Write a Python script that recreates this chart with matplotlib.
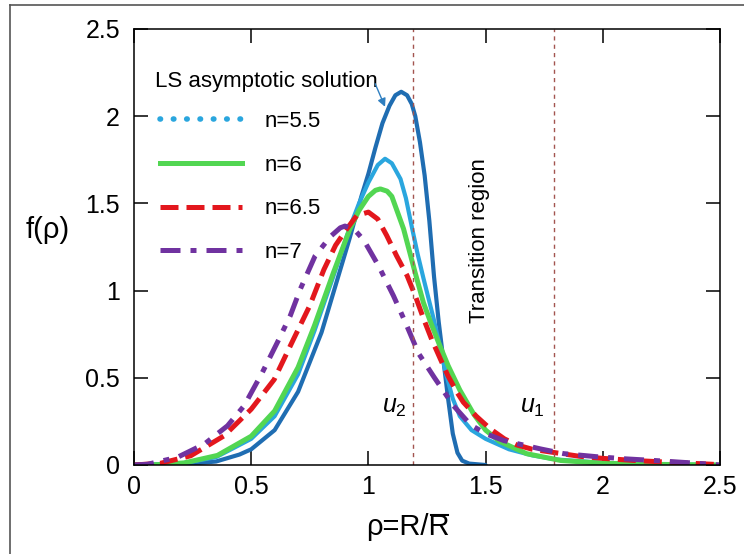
import matplotlib
matplotlib.use("Agg")
import matplotlib.pyplot as plt
from matplotlib.lines import Line2D

plt.rcParams["font.family"] = ["Liberation Sans", "DejaVu Sans"]
plt.rcParams["mathtext.fontset"] = "custom"
plt.rcParams["mathtext.rm"] = "Liberation Sans"
plt.rcParams["mathtext.it"] = "Liberation Sans:italic"

# LS asymptotic solution
rho_ls = [0, 0.2, 0.35, 0.45, 0.5, 0.6, 0.7, 0.8, 0.86, 0.92, 0.97, 1.0, 1.03, 1.06, 1.09,
          1.115, 1.14, 1.165, 1.185, 1.2, 1.22, 1.24, 1.26, 1.28, 1.3, 1.32, 1.34, 1.36,
          1.38, 1.4, 1.43, 1.5]
f_ls = [0, 0.003, 0.02, 0.06, 0.09, 0.2, 0.42, 0.76, 1.03, 1.3, 1.54, 1.67, 1.82, 1.96, 2.06,
        2.12, 2.14, 2.12, 2.07, 2.0, 1.85, 1.66, 1.4, 1.08, 0.82, 0.6, 0.38, 0.18,
        0.07, 0.025, 0.008, 0.0]

# n = 5.5
rho_55 = [0, 0.2, 0.35, 0.5, 0.6, 0.7, 0.77, 0.85, 0.92, 0.96, 1.0, 1.04, 1.071, 1.1, 1.137,
          1.16, 1.187, 1.21, 1.235, 1.278, 1.305, 1.33, 1.36, 1.39, 1.44, 1.5, 1.6, 1.7,
          1.8, 2.0, 2.2, 2.5]
f_55 = [0, 0.008, 0.045, 0.15, 0.28, 0.52, 0.77, 1.08, 1.36, 1.5, 1.62, 1.72, 1.756, 1.73, 1.64,
        1.53, 1.354, 1.21, 1.07, 0.84, 0.68, 0.53, 0.38, 0.28, 0.2, 0.15, 0.09, 0.055,
        0.032, 0.012, 0.004, 0.0]

# n = 6
rho_6 = [0, 0.1, 0.214, 0.356, 0.5, 0.6, 0.7, 0.77, 0.85, 0.92, 0.96, 1.0, 1.03, 1.051, 1.08,
         1.1, 1.15, 1.2, 1.235, 1.265, 1.3, 1.34, 1.39, 1.45, 1.5, 1.56, 1.675, 1.82, 2.0,
         2.2, 2.5]
f_6 = [0, 0.002, 0.012, 0.055, 0.165, 0.31, 0.56, 0.8, 1.1, 1.35, 1.46, 1.54, 1.575, 1.583, 1.57,
       1.54, 1.354, 1.1, 0.93, 0.82, 0.7, 0.57, 0.43, 0.29, 0.2, 0.135, 0.065, 0.026, 0.01,
       0.004, 0.0]

# n = 6.5
rho_65 = [0, 0.114, 0.242, 0.385, 0.5, 0.598, 0.68, 0.75, 0.81, 0.86, 0.908, 0.95, 1.0, 1.04,
          1.078, 1.12, 1.165, 1.2, 1.235, 1.27, 1.307, 1.34, 1.378, 1.405, 1.46, 1.52, 1.58,
          1.633, 1.7, 1.79, 1.9, 2.0, 2.145, 2.3, 2.5]
f_65 = [0, 0.01, 0.053, 0.168, 0.32, 0.49, 0.72, 0.914, 1.12, 1.26, 1.354, 1.43, 1.45, 1.41,
        1.316, 1.2, 1.086, 0.97, 0.84, 0.72, 0.608, 0.51, 0.417, 0.36, 0.28, 0.207, 0.15,
        0.115, 0.09, 0.072, 0.05, 0.038, 0.025, 0.015, 0.002]

# n = 7
rho_7 = [0, 0.057, 0.185, 0.3, 0.399, 0.47, 0.548, 0.612, 0.667, 0.71, 0.773, 0.838, 0.88, 0.9,
         0.94, 0.98, 1.044, 1.107, 1.157, 1.214, 1.282, 1.363, 1.436, 1.5, 1.578, 1.735,
         1.834, 1.97, 2.1, 2.23, 2.4, 2.5]
f_7 = [0, 0.004, 0.044, 0.12, 0.225, 0.34, 0.532, 0.704, 0.857, 1.01, 1.2, 1.31, 1.36, 1.37,
       1.35, 1.29, 1.14, 0.97, 0.82, 0.64, 0.5, 0.34, 0.23, 0.18, 0.14, 0.092,
       0.065, 0.048, 0.035, 0.025, 0.01, 0.0]

u_lines = [1.19, 1.79]
ticks = [0, 0.5, 1, 1.5, 2, 2.5]
tick_labels = ["0", "0.5", "1", "1.5", "2", "2.5"]

c_ls = "#1f6db2"
c_55 = "#2aa6de"
c_6 = "#52d652"
c_65 = "#e3171d"
c_7 = "#7032a0"

fig = plt.figure(figsize=(7.44, 5.54), dpi=100)
ax = fig.add_axes([134 / 744, 89 / 554, 586 / 744, 436 / 554])

ax.plot(rho_ls, f_ls, color=c_ls, lw=3.0, solid_capstyle="round")
ax.plot(rho_55, f_55, color=c_55, lw=3.0)
ax.plot(rho_6, f_6, color=c_6, lw=3.6)
ax.plot(rho_65, f_65, color=c_65, lw=3.6, linestyle=(0, (3.6, 1.6)))
ax.plot(rho_7, f_7, color=c_7, lw=3.6, linestyle=(0, (4, 2, 1.2, 2)))

for u in u_lines:
    ax.axvline(u, color="#a3544f", lw=1.0, linestyle=(0, (3, 3)))

ax.set_xlim(0, 2.5)
ax.set_ylim(0, 2.5)
ax.set_xticks(ticks)
ax.set_xticklabels(tick_labels)
ax.set_yticks(ticks)
ax.set_yticklabels(tick_labels)
ax.tick_params(direction="in", length=10, width=1.1, top=True, right=True,
               labelsize=18)
ax.tick_params(axis="x", pad=7)
ax.tick_params(axis="y", pad=10)
for s in ax.spines.values():
    s.set_linewidth(1.1)

# legenda manual com proxies (n=5.5 aparece pontilhado)
handles = [
    Line2D([], [], color=c_55, lw=4, linestyle=(0, (0.1, 2.3)), dash_capstyle="round"),
    Line2D([], [], color=c_6, lw=3.6),
    Line2D([], [], color=c_65, lw=3.6, linestyle=(0, (3.6, 1.6))),
    Line2D([], [], color=c_7, lw=3.6, linestyle=(0, (4, 2, 1.2, 2))),
]
labels = ["n=5.5", "n=6", "n=6.5", "n=7"]
ax.legend(handles, labels, loc="upper left", bbox_to_anchor=(0.044, 0.812),
          frameon=False, fontsize=16, handlelength=3.7, handletextpad=1.0,
          labelspacing=1.02, borderpad=0, borderaxespad=0)

ax.text(0.09, 2.2, "LS asymptotic solution", fontsize=16, ha="left", va="center")
ax.annotate("", xy=(1.071, 2.054), xytext=(1.029, 2.186),
            arrowprops=dict(arrowstyle="-|>", color="#2f7fc0", lw=1.0,
                            mutation_scale=12, shrinkA=0, shrinkB=0))
ax.text(1.472, 1.285, "Transition region", fontsize=16, rotation=90,
        ha="center", va="center")
ax.text(1.165, 0.3, "$u_2$", fontsize=18, ha="right", va="baseline")
ax.text(1.754, 0.3, "$u_1$", fontsize=18, ha="right", va="baseline")

ax.text(-0.147, 0.539, "f(ρ)", fontsize=21, ha="center", va="center",
        transform=ax.transAxes)
xl = ax.text(0.4676, -0.1607, "ρ=R/R", fontsize=21, ha="center",
             va="baseline", transform=ax.transAxes)

# barra sobre o último R (R médio)
fig.canvas.draw()
r = fig.canvas.get_renderer()
bb = xl.get_window_extent(r)
tmp = fig.text(0, 0, "R", fontsize=21)
w_r = tmp.get_window_extent(r).width
tmp.remove()
y_bar = bb.y0 + bb.height * 0.93
fig.add_artist(Line2D([(bb.x1 - w_r + 2) / 744, (bb.x1 - 2) / 744],
                      [y_bar / 554, y_bar / 554], color="black", lw=1.5))

# moldura externa (só esquerda e topo aparecem)
fig.add_artist(Line2D([10 / 744, 10 / 744], [0, 1 - 5 / 554], color="#555555", lw=1.2))
fig.add_artist(Line2D([10 / 744, 1], [1 - 5 / 554, 1 - 5 / 554], color="#555555", lw=1.2))

fig.savefig("out.png", dpi=100)
